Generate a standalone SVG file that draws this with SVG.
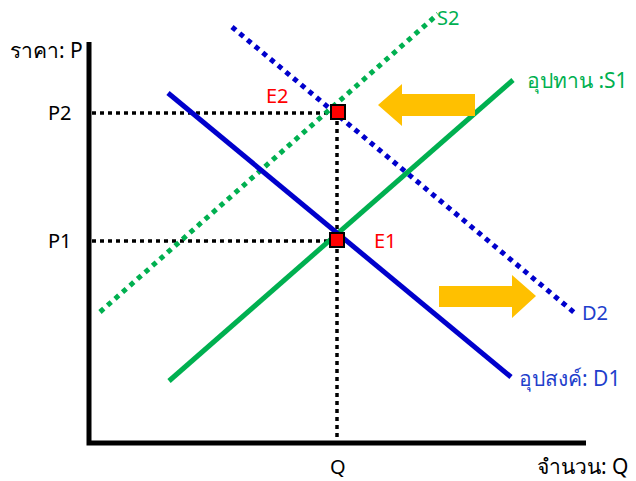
<svg xmlns="http://www.w3.org/2000/svg" width="636" height="481" viewBox="0 0 636 481">
<style>
text{font-family:"Noto Sans","DejaVu Sans",sans-serif;font-size:20px}
.th{font-size:21px}
.k{fill:#000}
.r{fill:#FF0000}
.g{fill:#00B050}
.b{fill:#1F3FCC}
.axis{stroke:#000;stroke-width:5;fill:none}
.guide{stroke:#000;stroke-width:3.5;stroke-dasharray:4 4;fill:none}
.solidg{stroke:#00B050;stroke-width:5;fill:none}
.solidb{stroke:#0000CC;stroke-width:5;fill:none}
.dotg{stroke:#00B050;stroke-width:5;stroke-dasharray:5 5;fill:none}
.dotb{stroke:#0000CC;stroke-width:5;stroke-dasharray:5 5;fill:none}
.pt{fill:#FF0000;stroke:#000;stroke-width:2}
.arr{fill:#FFC000}
</style>
<rect width="636" height="481" fill="#fff"/>
<g id="connectors">
<path class="guide" d="M92 113 H337 M92 241 H337 M337 113 V441"/>
<path class="dotg" d="M100 312 L438 14"/>
<path class="dotb" d="M232 27 L576 314"/>
<path class="solidg" d="M169 381 L513 80"/>
<path class="solidb" d="M168 93 L511 377"/>
<path class="axis" d="M89 42 V443 H586"/>
</g>
<g id="axisY"><text class="k th" x="10" y="58">ราคา: P</text></g>
<g id="axisX"><text class="k th" x="537" y="474">จำนวน: Q</text></g>
<g id="P2"><text class="k" x="48" y="120">P2</text></g>
<g id="P1"><text class="k" x="48" y="248">P1</text></g>
<g id="Q"><text class="k" x="330" y="474">Q</text></g>
<g id="S2"><text class="g" x="437" y="25">S2</text></g>
<g id="S1"><text class="g th" x="527" y="88">อุปทาน :S1</text></g>
<g id="D2"><text class="b" x="582" y="320">D2</text></g>
<g id="D1"><text class="b th" x="519" y="386">อุปสงค์: D1</text></g>
<g id="E2"><rect class="pt" x="331" y="105" width="14" height="14"/><text class="r" x="266" y="103">E2</text></g>
<g id="E1"><rect class="pt" x="330" y="233" width="14" height="14"/><text class="r" x="374" y="248">E1</text></g>
<g id="arrowLeft"><path class="arr" d="M378 105 L402 84 V94 H475 V116 H402 V126 Z"/></g>
<g id="arrowRight"><path class="arr" d="M439 286 H512 V275 L536 296 L512 318 V307 H439 Z"/></g>
</svg>
